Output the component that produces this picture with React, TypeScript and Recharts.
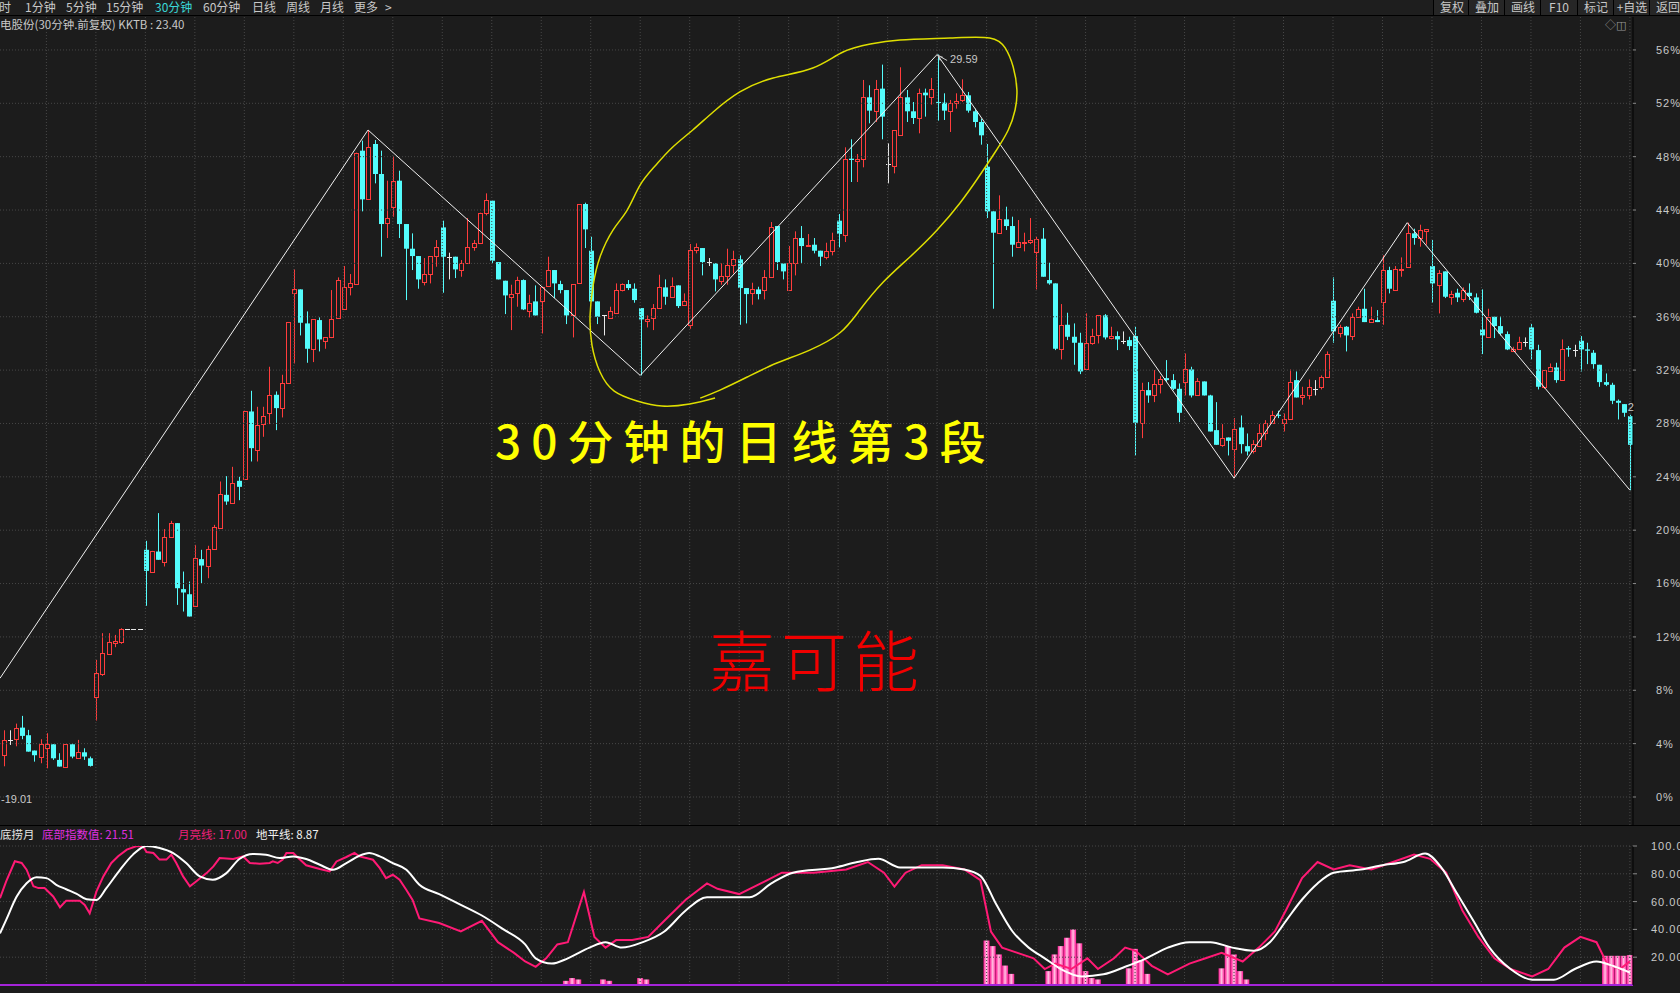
import React from "react";
import { ComposedChart, Bar, Line, XAxis, YAxis, ReferenceLine, ReferenceDot } from "recharts";

// ---------- data ----------
const BASE_PRICE = 19.01; // price at the 0% line

// 30-minute bars, % change from BASE_PRICE: [open, high, low, close]
const BARS: [number, number, number, number][] = [
  [3.15, 5.0, 2.3, 4.28], [4.3, 5.0, 3.9, 4.3], [4.33, 5.5, 3.8, 5.2], [5.2, 6.08, 4.33, 4.58],
  [4.63, 5.03, 3.4, 3.4], [3.48, 3.48, 2.65, 3.13], [3.03, 4.33, 2.53, 3.95], [3.65, 4.78, 2.15, 3.95],
  [3.95, 3.95, 2.78, 2.9], [2.78, 3.28, 2.28, 2.28], [2.23, 3.95, 2.23, 3.95], [3.95, 4.03, 2.9, 3.03],
  [2.95, 4.28, 2.95, 3.35], [3.35, 3.65, 2.78, 3.03], [2.9, 3.03, 2.28, 2.33], [7.48, 10.28, 5.73, 9.28],
  [9.2, 12.28, 9.08, 10.78], [10.73, 12.28, 10.65, 11.6], [11.53, 12.15, 11.23, 11.7], [11.65, 12.65, 11.48, 12.58],
  [12.58, 12.58, 12.58, 12.58], [12.58, 12.58, 12.58, 12.58], [12.58, 12.58, 12.58, 12.58], [18.53, 19.2, 14.33, 16.95],
  [16.9, 18.45, 16.9, 18.45], [18.4, 21.28, 17.78, 17.78], [17.65, 20.08, 17.28, 19.48], [19.48, 20.7, 19.48, 20.53],
  [20.53, 20.53, 14.4, 15.65], [15.58, 16.9, 13.9, 15.33], [15.2, 16.15, 13.53, 13.53], [14.33, 18.9, 14.33, 17.9],
  [17.83, 18.53, 16.03, 17.35], [17.28, 18.83, 16.4, 18.58], [18.58, 20.4, 18.53, 20.23], [20.2, 23.65, 20.2, 22.7],
  [22.65, 24.05, 21.9, 22.15], [22.05, 24.75, 22.0, 23.5], [23.7, 24.0, 22.25, 23.25], [23.85, 28.9, 23.85, 28.9],
  [28.9, 30.45, 25.15, 26.15], [26.0, 29.25, 25.15, 27.9], [27.95, 29.25, 27.0, 28.55], [28.75, 32.25, 27.95, 30.15],
  [30.15, 30.4, 27.5, 29.15], [29.15, 31.65, 28.45, 31.0], [31.0, 35.6, 31.0, 35.6], [37.75, 39.55, 32.5, 38.1],
  [38.05, 38.05, 34.6, 35.55], [35.5, 36.4, 32.55, 33.6], [33.6, 35.8, 32.6, 35.8], [35.75, 35.95, 33.4, 34.3],
  [34.2, 34.45, 33.6, 34.45], [34.5, 38.0, 34.4, 35.8], [35.9, 38.95, 35.9, 38.75], [36.6, 39.8, 36.6, 38.25],
  [38.2, 39.2, 37.6, 38.5], [38.45, 48.3, 38.45, 48.3], [48.45, 49.2, 43.9, 44.8], [44.8, 50.0, 44.8, 48.7],
  [48.95, 49.25, 46.0, 46.7], [46.7, 48.45, 40.5, 42.95], [43.05, 46.2, 41.9, 43.4], [44.25, 48.05, 43.5, 46.2],
  [46.2, 46.95, 41.9, 42.95], [42.95, 42.95, 37.25, 41.1], [41.1, 42.25, 39.5, 40.55], [40.55, 40.55, 38.1, 38.8],
  [38.6, 40.4, 38.35, 39.2], [39.2, 40.55, 38.5, 40.55], [40.55, 41.75, 39.75, 41.25], [42.7, 43.2, 37.8, 40.5],
  [40.5, 40.8, 38.8, 40.5], [40.5, 40.5, 38.9, 39.55], [39.5, 40.25, 39.0, 40.0], [40.0, 43.4, 40.0, 41.2],
  [41.2, 41.75, 40.95, 41.5], [41.5, 43.8, 41.45, 43.8], [43.8, 45.25, 43.6, 44.75], [44.7, 44.7, 40.0, 40.2],
  [40.1, 40.1, 38.8, 38.8], [38.7, 38.7, 36.2, 37.6], [37.5, 38.4, 35.0, 37.7], [37.75, 39.0, 36.75, 38.75],
  [38.75, 38.8, 36.5, 36.55], [36.45, 37.65, 35.95, 37.0], [37.15, 38.35, 36.1, 36.1], [37.15, 38.25, 34.75, 38.25],
  [38.3, 40.5, 38.3, 39.5], [39.5, 39.5, 37.4, 38.5], [38.45, 38.7, 37.75, 38.0], [38.0, 38.0, 35.45, 36.1],
  [36.15, 38.45, 34.45, 38.45], [38.5, 44.45, 38.5, 44.45], [44.45, 44.55, 41.15, 42.55], [40.95, 42.0, 37.15, 37.15],
  [37.15, 37.15, 35.45, 36.0], [36.1, 36.1, 34.6, 36.1], [35.9, 36.75, 35.9, 36.4], [36.3, 38.5, 36.3, 38.0],
  [38.0, 38.5, 37.9, 38.45], [38.45, 38.75, 38.0, 38.15], [38.1, 38.5, 37.05, 37.25], [36.65, 36.65, 31.6, 35.8],
  [35.7, 36.1, 35.2, 35.85], [35.9, 36.95, 35.0, 36.65], [36.65, 39.15, 36.65, 38.2], [38.2, 38.8, 36.9, 37.5],
  [37.5, 38.95, 37.5, 38.3], [38.35, 38.35, 36.65, 36.8], [36.9, 37.75, 36.9, 37.2], [35.4, 41.45, 35.1, 41.0],
  [41.0, 41.5, 40.75, 41.2], [41.15, 41.15, 39.1, 40.1], [40.1, 40.4, 39.8, 40.1], [40.0, 40.0, 37.9, 38.8],
  [38.65, 40.0, 38.4, 39.05], [39.05, 41.1, 38.4, 39.85], [39.85, 40.95, 39.25, 40.3], [40.3, 40.6, 35.4, 38.15],
  [38.15, 38.15, 35.5, 37.7], [37.8, 38.55, 36.9, 38.05], [38.05, 38.25, 37.3, 37.7], [38.0, 39.5, 37.3, 38.95],
  [39.0, 43.1, 39.0, 42.7], [42.8, 42.8, 39.5, 40.1], [40.0, 40.0, 38.8, 39.4], [38.0, 41.3, 38.0, 40.0],
  [40.0, 42.4, 39.1, 41.9], [41.9, 42.8, 40.0, 41.3], [41.3, 42.2, 41.3, 41.4], [41.4, 41.9, 40.75, 40.95],
  [40.95, 40.95, 39.8, 40.5], [40.5, 41.55, 40.3, 40.95], [40.95, 42.3, 40.6, 41.75], [43.2, 43.7, 41.2, 42.2],
  [42.1, 48.7, 41.6, 47.85], [47.85, 49.3, 46.1, 47.75], [47.7, 48.2, 46.1, 47.8], [47.8, 53.75, 47.2, 52.45],
  [52.45, 53.35, 50.5, 51.45], [51.45, 53.75, 50.6, 53.1], [53.1, 54.9, 49.3, 51.0], [47.45, 49.0, 46.0, 47.45],
  [47.3, 50.0, 46.75, 50.0], [49.6, 54.7, 49.6, 52.45], [52.45, 53.0, 50.6, 51.4], [51.4, 52.1, 50.45, 50.9],
  [50.9, 53.1, 49.75, 52.8], [52.8, 53.1, 51.0, 52.6], [52.5, 53.9, 51.9, 53.1], [52.1, 55.66, 50.7, 52.05],
  [52.05, 52.75, 50.75, 51.45], [51.4, 52.25, 49.85, 52.0], [52.05, 52.75, 51.6, 52.15], [52.25, 53.8, 52.1, 52.6],
  [52.6, 52.85, 51.3, 51.45], [51.4, 51.6, 50.2, 50.6], [50.6, 50.85, 48.9, 49.6], [47.25, 48.95, 43.4, 43.9],
  [43.9, 43.9, 36.6, 42.3], [42.3, 45.1, 42.3, 43.3], [43.3, 44.25, 42.5, 42.8], [42.8, 43.5, 40.5, 41.4],
  [41.2, 43.25, 41.2, 41.6], [41.55, 42.3, 40.9, 41.6], [41.6, 43.4, 41.45, 41.75], [40.85, 42.0, 38.05, 41.85],
  [41.85, 42.65, 39.0, 39.0], [38.75, 40.05, 38.4, 38.5], [38.5, 38.5, 33.5, 33.6], [33.55, 36.95, 32.8, 35.4],
  [35.4, 36.3, 34.25, 34.5], [34.5, 35.5, 32.4, 34.05], [34.05, 34.8, 31.7, 31.9], [32.1, 36.25, 32.1, 34.0],
  [34.05, 35.1, 33.9, 34.55], [34.6, 36.1, 34.0, 36.1], [36.1, 36.2, 34.3, 34.45], [34.4, 35.25, 34.3, 34.55],
  [34.55, 34.9, 33.5, 34.3], [34.2, 34.9, 33.95, 34.2], [34.25, 34.5, 33.5, 33.8], [34.55, 35.25, 25.6, 28.05],
  [28.05, 31.05, 26.9, 30.5], [30.5, 31.1, 29.55, 30.1], [30.1, 32.0, 29.6, 30.95], [30.95, 31.55, 30.25, 31.35],
  [31.4, 32.75, 31.1, 31.25], [31.25, 31.7, 30.5, 30.6], [30.6, 31.0, 28.1, 28.8], [31.1, 33.25, 30.1, 32.05],
  [32.05, 32.25, 29.95, 30.1], [30.1, 31.4, 30.1, 31.2], [31.15, 31.15, 30.1, 30.1], [30.1, 30.15, 27.4, 27.4],
  [27.5, 29.6, 26.4, 26.4], [26.4, 27.95, 26.25, 26.9], [26.95, 26.95, 25.6, 26.7], [26.1, 28.4, 23.9, 27.6],
  [27.7, 28.6, 25.75, 26.45], [26.3, 27.25, 25.6, 25.9], [25.9, 26.75, 25.75, 26.45], [26.3, 27.95, 26.25, 27.3],
  [27.3, 28.25, 26.75, 28.0], [28.0, 28.95, 28.0, 28.6], [28.65, 28.95, 28.4, 28.6], [28.05, 28.75, 27.4, 28.3],
  [28.3, 32.05, 28.3, 31.1], [31.25, 31.9, 29.95, 29.95], [29.95, 30.75, 29.4, 30.1], [30.1, 31.3, 29.8, 30.7],
  [30.6, 31.25, 30.1, 30.6], [30.7, 31.6, 30.55, 31.5], [31.5, 33.4, 31.5, 33.2], [37.2, 38.95, 34.05, 34.9],
  [34.75, 35.4, 34.45, 35.25], [35.25, 35.3, 33.4, 34.6], [34.55, 36.25, 34.25, 36.0], [35.95, 36.75, 35.95, 36.6],
  [36.6, 38.1, 35.6, 35.6], [35.6, 36.75, 35.55, 35.8], [35.75, 36.5, 35.6, 35.6], [37.1, 40.6, 35.4, 39.5],
  [39.5, 39.75, 37.75, 38.1], [38.0, 39.8, 38.0, 39.55], [39.55, 40.45, 39.0, 39.6], [39.75, 43.05, 39.75, 42.25],
  [42.25, 42.6, 41.4, 41.9], [41.9, 42.9, 41.25, 42.5], [42.45, 42.55, 41.4, 42.55], [39.8, 41.75, 37.05, 38.5],
  [38.4, 39.5, 36.25, 39.25], [39.4, 39.4, 37.4, 37.5], [37.45, 37.95, 36.9, 37.7], [37.8, 38.1, 37.1, 37.45],
  [37.3, 38.2, 37.1, 38.0], [37.8, 38.5, 37.25, 37.55], [37.45, 37.75, 36.25, 36.3], [35.05, 38.05, 33.2, 34.6],
  [34.5, 36.6, 34.5, 36.0], [36.0, 36.05, 34.4, 35.3], [35.3, 36.05, 34.6, 34.75], [34.7, 34.9, 33.5, 33.55],
  [33.45, 33.75, 33.45, 33.6], [33.6, 34.5, 33.55, 34.1], [34.1, 34.45, 33.75, 34.1], [35.2, 35.45, 32.8, 33.55],
  [33.5, 33.9, 30.55, 30.75], [30.75, 32.0, 30.6, 32.0], [31.95, 32.5, 31.9, 32.25], [32.2, 32.55, 31.05, 31.25],
  [31.25, 34.3, 31.25, 33.6], [33.65, 33.8, 33.0, 33.55], [33.5, 33.9, 33.0, 33.5], [34.2, 34.55, 31.9, 33.55],
  [33.55, 34.05, 32.45, 33.45], [33.3, 33.5, 32.1, 32.45], [32.4, 32.4, 30.75, 31.1], [31.1, 31.75, 30.8, 30.9],
  [30.9, 31.05, 29.45, 29.7], [29.7, 29.8, 28.3, 29.55], [29.45, 29.45, 28.5, 28.8], [28.55, 28.65, 23.0, 26.4],
];

// zigzag turning points: [bar index, "H" | "L"]
const ZIGZAG_PIVOTS: [number, "H" | "L"][] = [
  [59, "H"], [103, "L"], [151, "H"], [199, "L"], [227, "H"], [263, "L"],
];
const ZIGZAG_LEFT_EDGE = 8.9; // where the first leg enters the plot
const PEAK_INDEX = 151;

// hand-drawn marker loop around the third leg, [bar index, %]
const MARKER_LOOP: [number, number][] = [
  [115.1, 29.91], [111.0, 29.46], [106.5, 29.31], [102.5, 29.69], [98.8, 30.43], [96.5, 31.86],
  [95.2, 33.88], [94.9, 36.13], [95.4, 38.38], [96.5, 40.48], [98.6, 42.5], [100.9, 44.0],
  [103.0, 45.88], [105.4, 47.3], [108.1, 48.65], [111.5, 50.0], [114.8, 51.35], [119.1, 52.85],
  [124.5, 53.9], [130.9, 54.65], [135.8, 55.85], [140.2, 56.45], [145.0, 56.75], [153.1, 56.9],
  [159.5, 56.9], [162.0, 56.15], [163.3, 54.72], [163.9, 53.0], [163.6, 51.5], [162.5, 50.0],
  [160.4, 48.35], [157.6, 46.4], [154.7, 44.53], [151.0, 42.5], [146.6, 40.48], [142.3, 38.6],
  [138.5, 36.5], [135.3, 34.8], [130.4, 33.5], [125.1, 32.53], [120.3, 31.48], [115.9, 30.5], [112.7, 29.9],
];

// indicator panel: 月亮线 (pink) and 地平线 (white), [bar index, value]
const MOON_LINE: [number, number][] = [
  [-0.5, 62.4], [0.5, 74.5], [1.9, 89.0], [3, 87.8], [3.8, 83.0], [4.9, 71.0], [5.7, 69.7], [6.7, 69.7],
  [8.1, 63.7], [9.2, 55.9], [10.2, 60.7], [12.4, 60.7], [13.2, 57.6], [14, 51.6], [15.1, 67.3], [16.2, 78.1],
  [17.5, 87.8], [18.6, 92.6], [20, 97.4], [21.5, 99.8], [22.6, 99.8], [23.2, 95.7], [24.3, 95.0], [25.3, 90.2],
  [26.4, 90.2], [27.2, 93.8], [28, 87.8], [29.1, 78.1], [30.2, 71.0], [31.2, 74.5], [32.9, 80.5], [34, 85.3],
  [35, 91.3], [37.2, 90.6], [38.8, 92.5], [39.9, 87.8], [41.5, 87.3], [43.1, 87.8], [43.6, 89.0], [44.4, 87.8],
  [45.2, 90.2], [45.8, 95.0], [46.9, 95.0], [47.9, 90.6], [49, 86.1], [51.2, 83.4], [52.8, 81.7], [53.9, 88.9],
  [55.5, 92.1], [56.8, 95.0], [57.6, 92.5], [58.7, 91.3], [59.8, 90.1], [60.9, 84.1], [61.9, 76.9], [63, 79.3],
  [64.1, 75.7], [65.2, 68.4], [66.2, 61.2], [67.3, 47.9], [70.5, 44.6], [74, 38.5], [77.4, 46.2], [80, 30.8],
  [82.6, 23.1], [84.4, 16.9], [86.1, 13.1], [87.8, 19.2], [89.6, 29.2], [91.3, 30.8], [93.9, 66.9], [95.6, 34.6],
  [97.4, 26.9], [99.1, 32.3], [101.7, 32.3], [104.3, 34.6], [106.9, 46.2], [110.4, 61.5], [113.8, 73.1], [115.5, 69.2],
  [119, 65.4], [122.5, 73.1], [125.9, 80.8], [131.1, 80.8], [136.3, 83.1], [139.8, 88.5], [142.4, 80.8], [144.1, 70.8],
  [145.9, 80.8], [148.5, 86.2], [151.9, 86.2], [155.4, 83.1], [158, 75.4], [159.7, 38.5], [161.5, 26.9], [164, 23.1],
  [166.6, 19.2], [168.4, 11.5], [170.1, 15.4], [172.7, 11.5], [175.3, 19.2], [177, 11.5], [179.6, 19.2], [181.4, 26.9],
  [183.1, 24.6], [185.7, 13.8], [188.3, 7.7], [191.8, 15.4], [194.4, 19.2], [197, 23.1], [200.4, 16.9], [203, 26.9],
  [205.6, 38.5], [207.4, 53.8], [210, 76.9], [212.5, 88.5], [215.1, 83.1], [217.7, 86.2], [221.2, 83.1], [224.7, 88.5],
  [228.1, 93.8], [230.7, 90.8], [233.3, 80.8], [235.9, 53.8], [238.5, 34.6], [241.1, 19.2], [243.7, 11.5], [247.2, 6.2],
  [249.8, 11.5], [252.4, 26.9], [255, 34.6], [257.6, 30.8], [259.3, 15.4], [261.4, 11.5], [263, 17.0],
];
const HORIZON_LINE: [number, number][] = [
  [-0.5, 37.1], [0.5, 46.8], [2.2, 63.6], [3.8, 73.2], [5.4, 77.6], [7, 76.9], [8.6, 72.1], [10.2, 68.9],
  [11.9, 65.6], [13.5, 61.7], [15.1, 61.2], [16.7, 69.7], [18.9, 82.9], [21, 93.8], [23.2, 100.0], [25.3, 98.6],
  [27.5, 94.9], [29.6, 87.7], [31.8, 78.1], [33.9, 75.7], [36.1, 80.5], [38.2, 90.6], [40.4, 94.2], [42.5, 93.7],
  [44.7, 91.3], [46.9, 92.5], [49, 90.6], [51.2, 86.5], [53.3, 82.9], [55.5, 87.7], [57.6, 93.0], [59.2, 94.9],
  [60.9, 92.5], [63, 87.7], [65.2, 82.9], [67.3, 72.1], [70.5, 65.4], [74, 57.7], [77.4, 50.0], [80.9, 40.0],
  [84.4, 29.2], [86.1, 19.2], [88.7, 15.4], [91.3, 19.2], [94.8, 26.9], [97.4, 30.8], [100, 26.9], [103.4, 30.8],
  [106.9, 38.5], [110.4, 53.8], [113.8, 63.1], [120.7, 63.1], [124.2, 73.1], [127.7, 80.8], [134.6, 84.6], [138.1, 88.5],
  [141.5, 90.8], [145, 84.6], [151.9, 84.6], [155.4, 83.1], [158, 78.5], [160.6, 57.7], [163.2, 38.5], [165.8, 26.9],
  [168.4, 19.2], [171, 11.5], [174.4, 6.2], [177.9, 7.7], [181.4, 13.1], [184.8, 19.2], [188.3, 26.9], [191.8, 30.8],
  [195.2, 30.8], [198.7, 26.9], [202.2, 24.6], [204.8, 30.8], [207.4, 46.2], [210, 61.5], [212.5, 73.1], [215.1, 80.8],
  [219.5, 83.1], [223, 86.2], [226.4, 88.5], [229.9, 94.6], [232.5, 84.6], [235.1, 65.4], [237.7, 46.2], [240.3, 26.9],
  [243.7, 11.5], [247.2, 3.8], [250.7, 3.8], [254.1, 11.5], [257.6, 16.9], [260.2, 13.8], [263, 8.87],
];
// 底部指数值 histogram, only bars that are drawn: [bar index, value]
const BOTTOM_INDEX: [number, number][] = [
  [91, 3], [92, 5], [93, 4], [97, 4], [98, 3], [103, 5], [104, 4],
  [159, 32], [160, 28], [161, 22], [162, 14], [163, 8],
  [169, 10], [170, 22], [171, 28], [172, 34], [173, 40], [174, 30], [175, 10], [176, 5], [177, 4],
  [182, 12], [183, 26], [184, 18], [185, 8],
  [197, 12], [198, 28], [199, 22], [200, 10], [201, 4],
  [259, 21], [260, 21], [261, 21], [262, 21], [263, 21.51],
];

const PCT_TICKS = [0, 4, 8, 12, 16, 20, 24, 28, 32, 36, 40, 44, 48, 52, 56];
const IND_TICKS = [20, 40, 60, 80, 100];
const TIME_SLOTS = ["10:00", "10:30", "11:00", "11:30", "13:30", "14:00", "14:30", "15:00"];
const MENU = [
  { t: "分时", x: -13 }, { t: "1分钟", x: 25 }, { t: "5分钟", x: 66 }, { t: "15分钟", x: 106 },
  { t: "30分钟", x: 155, on: true }, { t: "60分钟", x: 203 }, { t: "日线", x: 252 }, { t: "周线", x: 286 },
  { t: "月线", x: 320 }, { t: "更多", x: 354 }, { t: ">", x: 385 },
];
const TOOLS = [
  { t: "复权", x: 1433 }, { t: "叠加", x: 1468 }, { t: "画线", x: 1504 }, { t: "F10", x: 1540 },
  { t: "标记", x: 1577 }, { t: "+自选", x: 1613 }, { t: "返回", x: 1649 },
];

// ---------- styling ----------
const BG = "#1c1c1c";
const UP = "#ff3c3c";
const DOWN = "#54fcfc";
const FLAT = "#e8e8e8";
const GRID = "#474747";
const TXT = "#c8c8c8";
const UI_FONT = "'Noto Sans CJK SC', 'DejaVu Sans', sans-serif";
const N = BARS.length;

function CandleShape(props: any) {
  const { x, y, width, height, payload } = props;
  if (x == null || y == null || !payload) return null;
  const { o, h, l, c } = payload;
  const top = Math.min(y, y + (height || 0));
  const span = Math.abs(height || 0);
  const py = (v: number) => (h === l ? top : top + ((h - v) / (h - l)) * span);
  const c0 = Math.round(x + width / 2);
  const wx = c0 + 0.5;
  const color = c > o ? UP : c < o ? DOWN : FLAT;
  const yo = py(o);
  const yc = py(c);
  const bTop = Math.min(yo, yc);
  const bBot = Math.max(yo, yc);
  const bottom = top + span;
  if (c === o) {
    const yy = Math.round(yo) + 0.5;
    return (
      <g>
        {span > 0 && <line x1={wx} x2={wx} y1={top} y2={bottom} stroke={color} strokeWidth={1} />}
        <line x1={c0 - 2} x2={c0 + 3} y1={yy} y2={yy} stroke={color} strokeWidth={1} />
      </g>
    );
  }
  if (c > o) {
    const t = Math.round(bTop) + 0.5;
    const b = Math.max(Math.round(bBot) + 0.5, t + 1);
    return (
      <g>
        {t > top && <line x1={wx} x2={wx} y1={top} y2={t} stroke={color} strokeWidth={1} />}
        {bottom > b && <line x1={wx} x2={wx} y1={b} y2={bottom} stroke={color} strokeWidth={1} />}
        <rect x={c0 - 1.5} y={t} width={4} height={b - t} fill="none" stroke={color} strokeWidth={1} />
      </g>
    );
  }
  return (
    <g>
      <line x1={wx} x2={wx} y1={top} y2={bottom} stroke={color} strokeWidth={1} />
      <rect x={c0 - 2} y={bTop} width={5} height={Math.max(bBot - bTop, 1)} fill={color} />
    </g>
  );
}

function PeakLabel(props: any) {
  const { viewBox, value } = props;
  if (!viewBox) return null;
  const { x, y } = viewBox;
  return (
    <g>
      <polyline points={`${x + 6},${y + 3} ${x + 1},${y + 1} ${x + 3},${y + 6}`} fill="none" stroke={TXT} strokeWidth={1} />
      <line x1={x + 1} y1={y + 1} x2={x + 10} y2={y + 6} stroke={TXT} strokeWidth={1} />
      <text x={x + 13} y={y + 9} fill={TXT} fontSize={11} fontFamily="'Liberation Sans', sans-serif">{value}</text>
    </g>
  );
}

function LowLabel(props: any) {
  const { viewBox, value } = props;
  if (!viewBox) return null;
  return (
    <text x={1} y={viewBox.y + 6} fill={TXT} fontSize={11} fontFamily="'Liberation Sans', sans-serif">{`-${value}`}</text>
  );
}

function EdgeLabel(props: any) {
  const { viewBox } = props;
  if (!viewBox) return null;
  return (
    <text x={viewBox.x + 4} y={viewBox.y + 5} fill={TXT} fontSize={11} fontFamily="'Liberation Sans', sans-serif">2</text>
  );
}

const gridX: number[] = [];
for (let k = 7; k < N; k += 8) gridX.push(k);

export default function App() {
  const candles = BARS.map(([o, h, l, c], i) => ({ i, x: i, o, h, l, c, range: [l, h] }));
  const zigzag = [
    { x: -0.5, v: ZIGZAG_LEFT_EDGE },
    ...ZIGZAG_PIVOTS.map(([i, k]) => ({ x: i, v: k === "H" ? BARS[i][1] : BARS[i][2] })),
  ];
  const loop = MARKER_LOOP.map(([x, v]) => ({ x, v }));
  const peakHigh = BARS[PEAK_INDEX][1];
  const peakPrice = (BASE_PRICE * (1 + peakHigh / 100)).toFixed(2);

  const histMap = new Map(BOTTOM_INDEX.map(([i, v]) => [i, v]));
  const indData = BARS.map((_, i) => ({ i, x: i, hist: histMap.get(i) ?? 0 }));
  const moon = MOON_LINE.map(([x, v]) => ({ x, v }));
  const horizon = HORIZON_LINE.map(([x, v]) => ({ x, v }));
  const timeTicks: number[] = [];
  for (let k = 1; k < N - 6; k += 11) timeTicks.push(k);

  const axisTick = { fill: TXT, fontSize: 11, fontFamily: "'Liberation Sans', sans-serif", letterSpacing: 1 };

  return (
    <div style={{ position: "fixed", left: 0, top: 0, width: 1680, height: 993, background: BG, overflow: "hidden", fontFamily: UI_FONT }}>
      {/* price panel */}
      <div style={{ position: "absolute", left: 0, top: 0 }}>
        <ComposedChart width={1680} height={826} data={candles} margin={{ top: 17, right: 0, bottom: 1, left: 0 }}>
          <XAxis xAxisId="cat" dataKey="i" type="category" hide />
          <XAxis xAxisId="num" dataKey="x" type="number" domain={[-0.5, N - 0.5]} allowDataOverflow hide />
          <YAxis
            yAxisId="p"
            orientation="right"
            width={47}
            domain={[-2.1, 58.47]}
            allowDataOverflow
            ticks={PCT_TICKS}
            interval={0}
            tickFormatter={(v: number) => `${v}%`}
            tick={axisTick}
            tickLine={{ stroke: "#8a8a8a" }}
            tickSize={3}
            tickMargin={20}
            axisLine={{ stroke: "#000", strokeWidth: 1 }}
          />
          {PCT_TICKS.map((v) => (
            <ReferenceLine key={`h${v}`} xAxisId="num" yAxisId="p" y={v} stroke={GRID} strokeDasharray="1 2" />
          ))}
          {gridX.map((v) => (
            <ReferenceLine key={`v${v}`} xAxisId="num" yAxisId="p" x={v} stroke={GRID} strokeDasharray="1 2" />
          ))}
          <Bar xAxisId="cat" yAxisId="p" dataKey="range" barSize={5} shape={(p: any) => <CandleShape {...p} />} isAnimationActive={false} />
          <Line xAxisId="num" yAxisId="p" data={zigzag} dataKey="v" type="linear" stroke="#f0f0f0" strokeWidth={1} dot={false} isAnimationActive={false} />
          <Line xAxisId="num" yAxisId="p" data={loop} dataKey="v" type="natural" stroke="#dede00" strokeWidth={1.5} dot={false} isAnimationActive={false} />
          <ReferenceDot xAxisId="num" yAxisId="p" x={PEAK_INDEX} y={peakHigh} r={0} label={<PeakLabel value={peakPrice} />} />
          <ReferenceDot xAxisId="num" yAxisId="p" x={-0.5} y={0} r={0} ifOverflow="visible" label={<LowLabel value={BASE_PRICE.toFixed(2)} />} />
          <ReferenceDot xAxisId="num" yAxisId="p" x={262} y={29.3} r={0} label={<EdgeLabel />} />
        </ComposedChart>
      </div>

      {/* indicator panel */}
      <div style={{ position: "absolute", left: 0, top: 826 }}>
        <svg width={0} height={0} style={{ position: "absolute" }}>
          <defs>
            <linearGradient id="histFill" x1="0" y1="0" x2="1" y2="0">
              <stop offset="0%" stopColor="#ff1493" />
              <stop offset="50%" stopColor="#ffc2e2" />
              <stop offset="100%" stopColor="#ff1493" />
            </linearGradient>
          </defs>
        </svg>
        <ComposedChart width={1680} height={167} data={indData} margin={{ top: 20, right: 0, bottom: 0, left: 0 }} barCategoryGap={0}>
          <XAxis xAxisId="cat" dataKey="i" type="category" hide />
          <XAxis
            xAxisId="num"
            dataKey="x"
            type="number"
            domain={[-0.5, N - 0.5]}
            allowDataOverflow
            height={8}
            ticks={timeTicks}
            interval={0}
            tickFormatter={(v: number) => TIME_SLOTS[v % 8]}
            tick={{ fill: "#e0e0e0", fontSize: 12, fontFamily: "'Liberation Sans', sans-serif" }}
            tickSize={2}
            tickMargin={2}
            axisLine={{ stroke: "#555" }}
            tickLine={{ stroke: "#888" }}
          />
          <YAxis
            yAxisId="s"
            orientation="right"
            width={47}
            domain={[0, 100]}
            allowDataOverflow
            ticks={IND_TICKS}
            interval={0}
            tickFormatter={(v: number) => v.toFixed(2)}
            tick={axisTick}
            tickLine={{ stroke: "#8a8a8a" }}
            tickSize={4}
            tickMargin={14}
            axisLine={{ stroke: "#000", strokeWidth: 1 }}
          />
          {IND_TICKS.map((v) => (
            <ReferenceLine key={`ih${v}`} xAxisId="num" yAxisId="s" y={v} stroke={GRID} strokeDasharray="1 2" />
          ))}
          {gridX.map((v) => (
            <ReferenceLine key={`iv${v}`} xAxisId="num" yAxisId="s" x={v} stroke={GRID} strokeDasharray="1 2" />
          ))}
          <Bar xAxisId="cat" yAxisId="s" dataKey="hist" fill="url(#histFill)" isAnimationActive={false} />
          <ReferenceLine xAxisId="num" yAxisId="s" y={0} stroke="#a424d8" strokeWidth={2} />
          <Line xAxisId="num" yAxisId="s" data={moon} dataKey="v" type="linear" stroke="#ff1a75" strokeWidth={2} dot={false} isAnimationActive={false} />
          <Line xAxisId="num" yAxisId="s" data={horizon} dataKey="v" type="monotone" stroke="#ffffff" strokeWidth={2} dot={false} isAnimationActive={false} />
        </ComposedChart>
      </div>
      <div style={{ position: "absolute", left: 0, top: 825, width: 1680, height: 1, background: "#000" }} />

      {/* indicator legend */}
      <div style={{ position: "absolute", left: 0, top: 827, fontSize: 11.5, lineHeight: "14px", whiteSpace: "nowrap" }}>
        <span style={{ position: "absolute", left: 0, color: "#e6e6e6" }}>底捞月</span>
        <span style={{ position: "absolute", left: 42, color: "#e030e0" }}>底部指数值: 21.51</span>
        <span style={{ position: "absolute", left: 178, color: "#f0207a" }}>月亮线: 17.00</span>
        <span style={{ position: "absolute", left: 256, color: "#f0f0f0" }}>地平线: 8.87</span>
      </div>

      {/* toolbar */}
      <div style={{ position: "absolute", left: 0, top: 0, width: 1680, height: 15, background: "#1e1e1e", borderBottom: "1px solid #000" }}>
        {MENU.map((m) => (
          <span key={m.t} style={{ position: "absolute", left: m.x, top: 0, fontSize: 12, lineHeight: "13px", color: m.on ? "#3ad8d8" : TXT, whiteSpace: "nowrap" }}>
            {m.t}
          </span>
        ))}
        {TOOLS.map((b) => (
          <div key={b.t} style={{ position: "absolute", left: b.x, top: 0, width: 36, height: 15, borderLeft: "1px solid #000", background: "#262626", color: TXT, fontSize: 12, lineHeight: "13px", textAlign: "center", whiteSpace: "nowrap" }}>
            {b.t}
          </div>
        ))}
      </div>

      {/* title line */}
      <div style={{ position: "absolute", left: 0, top: 17, fontSize: 11.5, lineHeight: "14px", color: TXT, whiteSpace: "nowrap" }}>
        电股份(30分钟.前复权) KKTB : 23.40
      </div>
      <div style={{ position: "absolute", left: 1605, top: 17, fontSize: 11, lineHeight: "14px", color: "#9a9a9a", whiteSpace: "nowrap" }}>◇◫</div>

      {/* annotations */}
      <div style={{ position: "absolute", left: 495, top: 414, fontSize: 46, lineHeight: "50px", letterSpacing: 10, color: "#ffff00", fontWeight: 500, whiteSpace: "nowrap" }}>
        30分钟的日线第3段
      </div>
      <div style={{ position: "absolute", left: 709, top: 622, fontSize: 66, lineHeight: "70px", letterSpacing: 6, color: "#f00000", fontWeight: 300, whiteSpace: "nowrap" }}>
        嘉可能
      </div>
    </div>
  );
}
